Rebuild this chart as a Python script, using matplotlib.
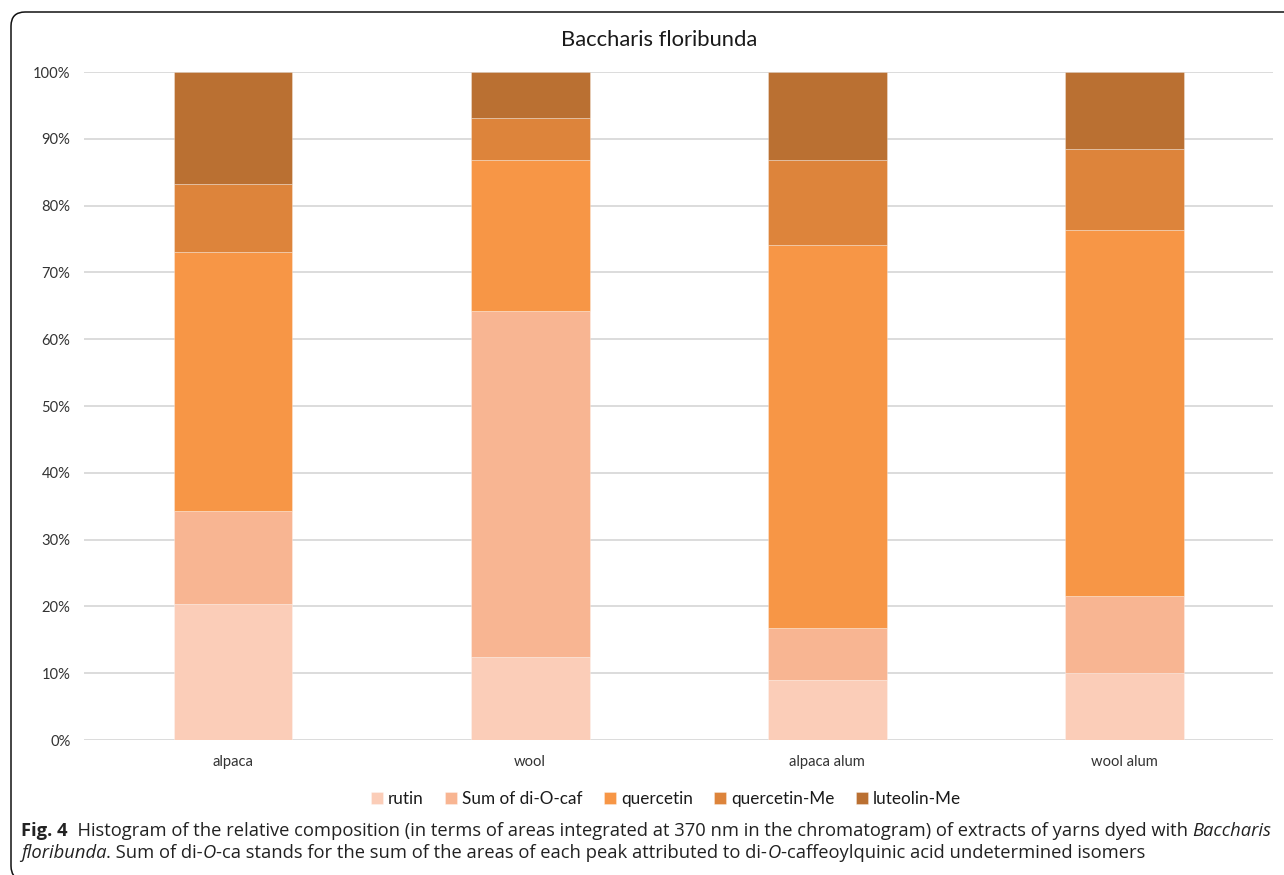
import matplotlib
matplotlib.use("Agg")
import matplotlib.pyplot as plt
from matplotlib.patches import FancyBboxPatch
from matplotlib.ticker import PercentFormatter, MultipleLocator
import numpy as np

categories = ["alpaca", "wool", "alpaca alum", "wool alum"]
series_names = ["rutin", "Sum of di-O-caf", "quercetin", "quercetin-Me", "luteolin-Me"]
rutin = [20.4, 12.4, 9.0, 10.1]
di_o_caf = [13.9, 51.8, 7.8, 11.5]
quercetin = [38.7, 22.6, 57.3, 54.8]
quercetin_me = [10.2, 6.3, 12.7, 12.0]
luteolin_me = [16.8, 6.9, 13.2, 11.6]
colors = ["#FBCDB8", "#F8B592", "#F79646", "#DD843B", "#BA7032"]

W, H = 1284, 875
fig = plt.figure(figsize=(W / 100, H / 100), dpi=100)
fig.patch.set_facecolor("white")

# rounded frame around the figure panel
frame = FancyBboxPatch((11 / W, 1 - 880 / H), 1.05, (880 - 12) / H,
                       boxstyle="round,pad=0,rounding_size=0.011",
                       transform=fig.transFigure, facecolor="none",
                       edgecolor="#111111", linewidth=1.1, clip_on=False,
                       mutation_aspect=W / H)
fig.patches.append(frame)

ax = fig.add_axes([84.5 / W, (H - 740) / H, (1273 - 84.5) / W, (740 - 72) / H])
x = np.arange(len(categories))
data = [rutin, di_o_caf, quercetin, quercetin_me, luteolin_me]
bottom = np.zeros(len(categories))
handles = []
for name, vals, c in zip(series_names, data, colors):
    vals = np.array(vals, dtype=float)
    b = ax.bar(x, vals, width=0.4, bottom=bottom, color=c, label=name,
               edgecolor=(1, 1, 1, 0.35), linewidth=0.6, zorder=3)
    handles.append(b)
    bottom += vals

ax.set_xlim(-0.5, len(categories) - 0.5)
ax.set_ylim(0, 100)
ax.yaxis.set_major_locator(MultipleLocator(10))
ax.yaxis.set_major_formatter(PercentFormatter(decimals=0))
ax.grid(axis="y", color="#D9D9D9", linewidth=1.3, zorder=0)
ax.set_axisbelow(True)
for s in ax.spines.values():
    s.set_visible(False)
ax.tick_params(length=0)
ax.set_xticks(x)
ax.set_xticklabels(categories, fontsize=10.6, color="#333333", family="Lato")
for lbl in ax.get_yticklabels():
    lbl.set_family("Lato")
    lbl.set_fontsize(10.6)
    lbl.set_color("#333333")
ax.tick_params(axis="x", pad=11)
ax.tick_params(axis="y", pad=10)

fig.text(659 / W, 1 - 40 / H, "Baccharis floribunda", ha="center", va="center",
         fontsize=15.8, family="Lato", color="#1a1a1a")

leg = fig.legend(handles=handles, labels=series_names, loc="center",
                 bbox_to_anchor=(666 / W, 1 - 799 / H), ncol=5, frameon=False,
                 prop={"family": "Lato", "size": 12.3}, handlelength=0.7,
                 handleheight=0.7, handletextpad=0.3, columnspacing=1.25)
for t in leg.get_texts():
    t.set_color("#1a1a1a")

# caption, assembled from styled runs
renderer = fig.canvas.get_renderer()
cap_size = 13.2
cap_font = "Open Sans"

def put_runs(runs, x0, y0):
    xp = x0
    for txt, weight, style in runs:
        t = fig.text(xp / W, 1 - y0 / H, txt, ha="left", va="baseline",
                     fontsize=cap_size, family=cap_font, fontweight=weight,
                     fontstyle=style, color="#222222")
        bb = t.get_window_extent(renderer=renderer)
        xp += bb.width

line1 = [("Fig. 4", "bold", "normal"),
         ("  Histogram of the relative composition (in terms of areas integrated at 370 nm in the chromatogram) of extracts of yarns dyed with ", "normal", "normal"),
         ("Baccharis", "normal", "italic")]
line2 = [("floribunda", "normal", "italic"),
         (". Sum of di-", "normal", "normal"),
         ("O", "normal", "italic"),
         ("-ca stands for the sum of the areas of each peak attributed to di-", "normal", "normal"),
         ("O", "normal", "italic"),
         ("-caffeoylquinic acid undetermined isomers", "normal", "normal")]
put_runs(line1, 21, 836)
put_runs(line2, 21, 858)

fig.savefig("out.png", dpi=100)
